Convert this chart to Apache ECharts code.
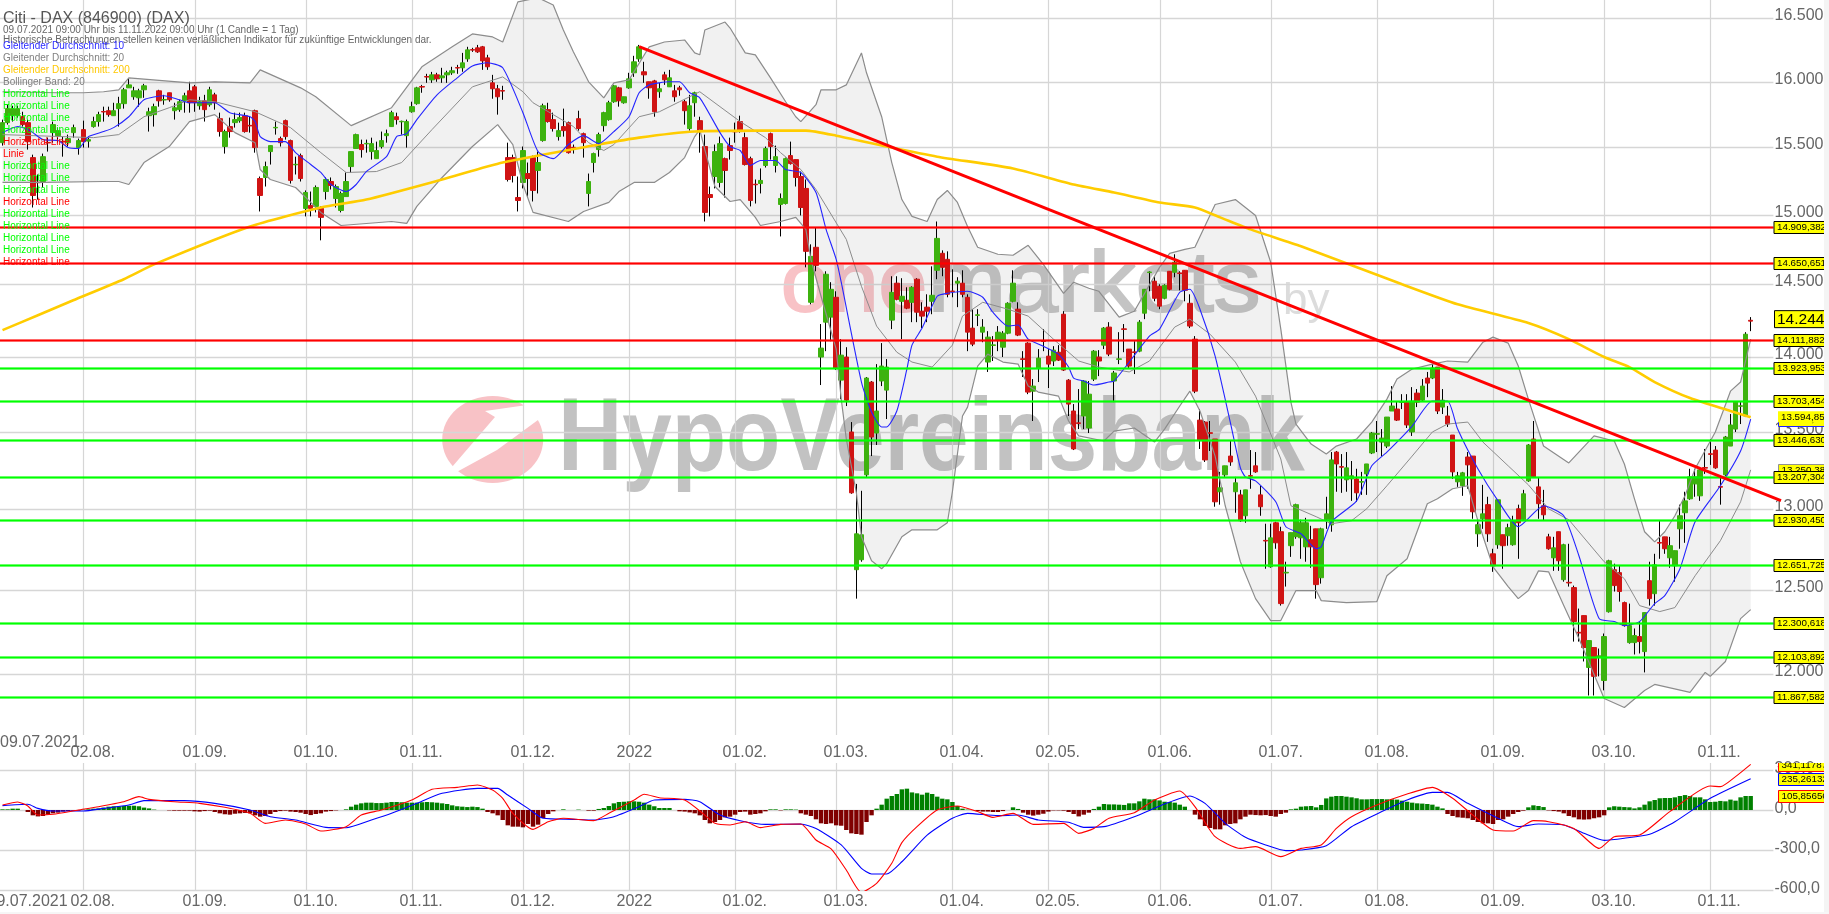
<!DOCTYPE html>
<html><head><meta charset="utf-8">
<script src="https://cdn.jsdelivr.net/npm/echarts@6/dist/echarts.min.js"></script>
<style>html,body{margin:0;padding:0;background:#fff}#c{width:1829px;height:914px}</style></head>
<body><div id="c"></div>
<script>
const holidays=['2021-12-24','2021-12-31','2022-04-15','2022-04-18'];
const firstDay='2021-07-09';
const tickDates=['2021-08-02','2021-09-01','2021-10-01','2021-11-01','2021-12-01','2022-01-03','2022-02-01','2022-03-01','2022-04-01','2022-05-02','2022-06-01','2022-07-01','2022-08-01','2022-09-01','2022-10-03','2022-11-01'];
const tickLabels=['02.08.','01.09.','01.10.','01.11.','01.12.','2022','01.02.','01.03.','01.04.','02.05.','01.06.','01.07.','01.08.','01.09.','03.10.','01.11.'];
const priceTicks=[16500,16000,15500,15000,14500,14000,13500,13000,12500,12000];
const priceTickLabels=['16.500,0','16.000,0','15.500,0','15.000,0','14.500,0','14.000,0','13.500,0','13.000,0','12.500,0','12.000,0'];
const macdTicks=[300,0,-300,-600];
const macdTickLabels=['300,0','0,0','-300,0','-600,0'];
const redLevels=[14909.382,14650.651,14111.882];
const redLevelLabels=['14.909,382','14.650,651','14.111,882'];
const greenLevels=[13923.953,13703.454,13446.630,13207.304,12930.450,12651.725,12300.618,12103.892,11867.582];
const greenLevelLabels=['13.923,953','13.703,454','13.446,630','13.207,304','12.930,450','12.651,725','12.300,618','12.103,892','11.867,582'];
const trendLine=[[126,16274],[352,13056]];

// open, close, low, high per trading day
const ohlc=[
[15533,15685,15511,15708],[15685,15792,15670,15822],[15738,15792,15693,15814],[15738,15792,15723,15814],[15730,15670,15655,15768],[15685,15541,15481,15708],[15421,15140,15052,15443],[15238,15234,15110,15295],[15243,15428,15199,15451],[15535,15531,15466,15571],
[15609,15670,15533,15693],[15586,15624,15533,15647],[15543,15539,15428,15579],[15533,15564,15504,15594],[15609,15647,15571,15670],[15496,15549,15443,15564],[15632,15541,15496,15700],[15545,15556,15496,15579],[15655,15693,15647,15730],[15693,15746,15655,15768],
[15770,15766,15693,15807],[15776,15746,15730,15807],[15738,15776,15738,15837],[15792,15830,15655,15883],[15830,15937,15792,15952],[15952,15975,15952,16022],[15883,15929,15860,15960],[15875,15929,15807,15945],[15937,15968,15875,15983],[15738,15768,15617,15799],
[15746,15807,15655,15830],[15929,15852,15807,15937],[15858,15862,15822,15898],[15914,15860,15845,15914],[15776,15799,15708,15837],[15784,15845,15768,15860],[15852,15891,15761,15914],[15929,15837,15761,15999],[15960,15837,15768,15975],[15814,15845,15784,15883],
[15852,15784,15693,15898],[15822,15937,15807,15960],[15898,15837,15784,15914],[15715,15617,15579,15761],[15504,15617,15451,15632],[15655,15617,15571,15723],[15685,15708,15647,15761],[15700,15723,15685,15761],[15738,15617,15609,15761],[15664,15660,15609,15730],
[15776,15496,15458,15784],[15265,15140,15023,15280],[15273,15354,15206,15391],[15466,15511,15369,15511],[15645,15649,15594,15693],[15564,15533,15504,15579],[15700,15579,15556,15708],[15549,15251,15228,15556],[15367,15371,15295,15428],[15436,15265,15243,15451],
[15045,15162,14987,15177],[15067,15045,14987,15169],[15060,15199,15016,15214],[15045,14980,14814,15060],[15169,15258,15110,15273],[15243,15214,15184,15273],[15118,15206,15052,15221],[15030,15155,15016,15169],[15132,15243,15132,15310],[15354,15466,15310,15466],
[15489,15594,15489,15601],[15519,15481,15421,15556],[15524,15528,15458,15556],[15466,15526,15406,15571],[15413,15474,15413,15541],[15504,15549,15489,15617],[15586,15601,15533,15632],[15655,15761,15655,15776],[15730,15708,15670,15761],[15691,15695,15594,15700],
[15586,15693,15496,15708],[15768,15807,15761,15845],[15830,15952,15822,15960],[15962,15958,15914,15975],[16040,16036,15991,16061],[16014,16053,15991,16076],[16053,16022,15999,16069],[16030,16045,15991,16108],[16053,16069,15991,16085],[16069,16085,16053,16116],
[16110,16106,16061,16131],[16108,16147,16077,16225],[16178,16249,16155,16273],[16251,16247,16233,16265],[16265,16233,16225,16288],[16273,16162,16092,16280],[16186,16116,16092,16210],[15991,15945,15868,16053],[15945,15883,15746,15975],[15931,15927,15860,15968],
[15421,15258,15243,15533],[15421,15287,15236,15443],[15125,15103,15023,15280],[15236,15474,15192,15504],[15302,15265,15125,15384],[15421,15177,15096,15436],[15325,15384,15155,15466],[15549,15814,15541,15830],[15784,15693,15685,15837],[15708,15640,15617,15761],
[15579,15624,15549,15685],[15655,15624,15579,15792],[15685,15458,15451,15693],[15498,15494,15451,15519],[15715,15640,15624,15776],[15601,15533,15421,15609],[15155,15243,15060,15302],[15384,15451,15310,15458],[15481,15594,15428,15609],[15662,15761,15617,15768],
[15708,15837,15700,15852],[15845,15968,15837,15975],[15952,15852,15807,15960],[15837,15883,15830,15883],[15952,16022,15945,16069],[16069,16155,16037,16202],[16178,16273,16155,16288],[16077,16053,15991,16155],[15999,15952,15868,15999],[16006,15768,15730,16014],
[15922,15945,15875,15991],[16053,16014,15975,16077],[15960,16030,15960,16092],[15929,15883,15845,15975],[15952,15937,15891,15968],[15845,15776,15670,15860],[15640,15814,15624,15898],[15837,15914,15730,15922],[15700,15624,15458,15730],[15504,15016,14950,15594],
[15147,15125,14987,15206],[15280,15466,15192,15519],[15236,15526,15199,15579],[15413,15325,15125,15421],[15511,15474,15406,15571],[15619,15615,15533,15685],[15693,15617,15609,15738],[15571,15369,15362,15609],[15413,15103,15060,15428],[15223,15219,15081,15258],
[15228,15251,15155,15340],[15362,15489,15347,15504],[15601,15504,15406,15609],[15362,15428,15310,15511],[15074,15118,14842,15155],[15081,15413,15074,15421],[15436,15376,15369,15541],[15406,15273,15206,15406],[15280,15052,14994,15317],[15192,14735,14621,15258],
[14375,14699,14361,14785],[14764,14635,14593,14907],[13998,14059,13809,14224],[14237,14572,14038,14593],[14272,14466,14106,14516],[14410,13924,13910,14452],[13842,14011,13715,14120],[13998,13708,13669,14065],[13498,13105,13099,13563],[12625,12847,12449,13162],
[12686,12841,12674,13118],[13220,13856,13207,13863],[13829,13465,13341,13836],[13491,13636,13413,13950],[13836,13937,13802,14093],[13775,13930,13583,13984],[14251,14445,14189,14558],[14509,14396,14389,14558],[14382,14417,14120,14544],[14389,14334,14327,14480],
[14375,14480,14237,14487],[14537,14306,14237,14544],[14313,14279,14196,14375],[14341,14313,14237,14431],[14382,14424,14292,14628],[14600,14828,14537,14950],[14721,14621,14558,14742],[14678,14431,14410,14735],[14454,14450,14410,14607],[14509,14523,14341,14551],
[14509,14431,14410,14600],[14410,14168,14038,14431],[14196,14086,14072,14327],[14284,14288,14210,14327],[14168,14203,14099,14258],[13964,14134,13897,14175],[14077,14081,13971,14141],[14113,14168,14038,14210],[14065,14161,13998,14175],[14161,14368,14154,14375],
[14382,14509,14375,14600],[14327,14148,14141,14375],[13986,13982,13863,14038],[14093,13762,13748,14099],[13768,13802,13570,13849],[13924,13991,13829,14052],[14108,14104,14038,14189],[14004,13950,13789,14052],[13971,14045,13937,14072],[14031,13977,13971,14079],
[14292,13910,13904,14313],[13842,13682,13603,13849],[13636,13387,13380,13682],[13558,13554,13517,13782],[13603,13836,13517,13842],[13524,13748,13491,13836],[13849,14038,13836,14045],[13998,13971,13869,14045],[14079,14196,14052,14203],[14203,14018,14004,14237],
[13836,13890,13695,13904],[13982,13986,13950,14168],[14191,14187,14031,14224],[14052,13937,13917,14052],[14033,14029,13883,14106],[14038,14237,14031,14251],[14299,14466,14258,14466],[14584,14588,14452,14593],[14523,14403,14382,14558],[14487,14348,14327,14501],
[14403,14494,14396,14501],[14593,14466,14459,14593],[14586,14657,14551,14714],[14581,14577,14459,14593],[14600,14459,14382,14600],[14368,14210,14196,14431],[14120,13768,13755,14141],[13576,13445,13387,13649],[13563,13316,13303,13570],[13493,13489,13374,13570],
[13452,13048,13017,13452],[13112,13137,13030,13239],[13220,13278,13207,13278],[13341,13303,13278,13439],[13112,13169,12979,13207],[13092,12929,12922,13124],[12960,13124,12916,13124],[13215,13211,13131,13380],[13278,13239,13233,13367],[13092,13017,12960,13150],
[12806,12802,12631,12910],[12643,12822,12637,12910],[12916,12791,12754,12922],[12860,12419,12407,12891],[12605,12609,12522,12674],[12773,12854,12704,12854],[12829,13030,12816,13036],[12822,12916,12692,12935],[12766,12916,12674,12947],[12810,12766,12637,12897],
[12878,12534,12449,12878],[12576,12878,12540,12885],[12935,12972,12878,13080],[12903,13316,12860,13367],[13367,13290,13112,13374],[13273,13269,13105,13354],[13188,13265,13112,13367],[13194,13214,13054,13309],[13194,13105,13048,13259],[13173,13177,13092,13239],
[13226,13290,13092,13290],[13361,13491,13354,13498],[13483,13487,13367,13570],[13432,13458,13341,13517],[13406,13596,13393,13596],[13636,13669,13636,13802],[13649,13576,13570,13702],[13693,13697,13649,13748],[13695,13544,13524,13748],[13498,13702,13472,13795],
[13755,13695,13662,13782],[13708,13802,13702,13849],[13856,13822,13728,13897],[13856,13924,13849,13950],[13930,13636,13616,13930],[13662,13708,13616,13782],[13603,13550,13531,13669],[13478,13239,13194,13478],[13175,13214,13143,13239],[13150,13233,13086,13239],
[13335,13284,13131,13367],[13341,12985,12941,13341],[12847,12904,12766,12941],[12941,12972,12878,13156],[13030,12847,12797,13080],[12723,12649,12612,12754],[12779,13061,12754,13061],[12841,12773,12631,12841],[12835,12885,12773,12910],[12779,12929,12773,12960],
[13004,12916,12692,13030],[12935,13099,12929,13124],[13181,13413,13175,13419],[13452,13207,13200,13570],[13143,13036,12941,13200],[13023,12966,12929,13124],[12828,12754,12748,12847],[12698,12760,12618,12828],[12860,12680,12618,12860],[12564,12779,12552,12785],
[12548,12544,12522,12785],[12516,12311,12192,12528],[12247,12243,12192,12389],[12347,12157,12075,12347],[12040,12198,11877,12198],[12157,11988,11877,12157],[12104,12108,11988,12151],[11964,12222,11907,12240],[12370,12680,12365,12686],[12625,12528,12492,12662],
[12607,12492,12431,12649],[12425,12287,12281,12431],[12186,12287,12180,12419],[12186,12228,12116,12270],[12222,12192,12122,12311],[12133,12365,12011,12365],[12558,12449,12407,12674],[12479,12655,12407,12723],[12793,12789,12692,12929],[12828,12754,12723,12828],
[12698,12773,12637,12828],[12649,12742,12552,12742],[12878,12960,12754,13030],[12979,13054,12791,13112],[13067,13207,13061,13259],[13162,13207,13080,13259],[13086,13252,13054,13259],[13267,13263,13226,13387],[13356,13352,13284,13452],[13380,13265,13259,13406],
[13145,13141,13030,13207],[13220,13465,13213,13472],[13406,13544,13406,13616],[13517,13695,13498,13695],[13667,13671,13550,13702],[13603,14154,13596,14168],[14250,14244,14175,14272]
];

const ma10=[[0,15609],[3,15655],[5,15632],[6,15609],[8,15556],[11,15549],[13,15496],[15,15489],[17,15579],[20,15617],[22,15647],[25,15730],[28,15860],[32,15891],[35,15860],[37,15837],[42,15837],[45,15761],[49,15730],[50,15693],[51,15579],[53,15541],[56,15541],[58,15458],[61,15369],[63,15310],[65,15221],[68,15169],[70,15221],[72,15317],[76,15428],[78,15579],[80,15601],[82,15708],[86,15898],[90,16030],[93,16123],[96,16147],[99,16108],[103,15761],[106,15466],[109,15413],[112,15519],[115,15586],[118,15526],[121,15617],[124,15730],[126,15914],[128,15975],[132,15999],[134,15999],[136,15914],[138,15875],[142,15609],[144,15504],[146,15474],[148,15362],[150,15399],[153,15399],[155,15332],[158,15310],[161,15162],[163,14893],[165,14678],[166,14516],[170,13829],[172,13629],[174,13531],[175,13531],[177,13636],[179,13917],[180,14079],[182,14196],[185,14417],[187,14438],[191,14452],[194,14410],[196,14306],[199,14210],[201,14217],[203,14120],[206,14072],[209,14018],[211,13930],[212,13856],[214,13836],[216,13809],[219,13829],[220,13836],[223,13964],[227,14141],[229,14189],[233,14445],[235,14466],[237,14327],[240,14004],[243,13563],[245,13265],[246,13207],[248,13181],[252,13048],[254,12891],[257,12847],[260,12754],[261,12766],[263,12922],[268,13054],[271,13278],[274,13367],[279,13537],[283,13702],[286,13702],[288,13517],[292,13259],[296,13054],[300,12891],[305,13023],[309,12960],[312,12711],[316,12329],[319,12311],[321,12287],[324,12311],[327,12419],[329,12467],[332,12631],[335,12922],[340,13150],[344,13374],[346,13583]];
const ma20=[[0,15594],[18,15571],[23,15594],[28,15730],[33,15799],[37,15860],[42,15845],[50,15768],[57,15647],[63,15458],[68,15310],[74,15317],[79,15384],[85,15632],[93,15960],[99,16037],[103,15922],[105,15837],[109,15746],[113,15655],[116,15533],[119,15474],[121,15519],[126,15730],[130,15768],[134,15845],[138,15922],[142,15807],[146,15693],[151,15571],[154,15458],[158,15332],[161,15184],[167,14821],[170,14487],[173,14210],[177,14031],[180,13964],[184,13930],[188,14079],[190,14279],[194,14375],[199,14327],[203,14279],[208,14120],[213,13971],[217,13930],[223,13897],[227,13971],[232,14203],[235,14258],[239,14154],[244,13964],[248,13735],[253,13322],[255,13023],[260,12954],[263,12910],[267,12929],[270,13004],[274,13150],[279,13341],[283,13498],[286,13550],[290,13563],[293,13432],[298,13278],[302,13156],[306,13004],[310,12935],[317,12674],[321,12570],[324,12407],[328,12371],[331,12395],[335,12588],[340,12804],[344,13048],[346,13252]];
const ma200=[[0,14182],[7,14285],[14,14389],[24,14537],[30,14642],[49,14914],[63,15052],[72,15110],[87,15258],[99,15384],[118,15519],[126,15571],[137,15617],[150,15624],[159,15624],[165,15586],[175,15504],[185,15428],[200,15340],[212,15221],[220,15162],[229,15089],[236,15052],[241,14980],[247,14893],[257,14771],[277,14501],[288,14361],[302,14231],[310,14120],[317,13998],[322,13930],[327,13829],[334,13722],[342,13636],[346,13595]];
const bollUpper=[[0,15922],[11,15914],[16,15914],[20,15922],[23,15937],[25,16030],[37,15991],[42,15999],[49,15991],[51,16092],[59,15952],[62,15883],[69,15662],[77,15799],[83,16116],[89,16273],[93,16375],[97,16351],[99,16311],[102,16632],[106,16665],[109,16607],[111,16406],[113,16232],[116,15999],[119,15875],[121,15991],[124,16014],[128,16273],[131,16311],[135,16327],[137,16225],[138,16210],[139,16406],[143,16470],[144,16422],[147,16225],[149,16210],[152,16030],[155,15845],[157,15730],[158,15693],[161,15822],[162,15937],[165,15937],[167,15975],[170,16225],[171,16069],[174,15730],[176,15384],[178,15110],[180,14987],[183,14950],[185,15110],[187,15177],[189,15089],[191,14914],[193,14764],[197,14714],[200,14707],[203,14778],[206,14642],[210,14438],[212,14516],[215,14473],[217,14452],[221,14272],[224,14313],[229,14621],[231,14721],[234,14749],[236,14764],[240,15074],[244,15110],[248,14994],[251,14657],[253,14189],[255,13695],[256,13550],[259,13419],[262,13354],[264,13406],[268,13452],[271,13563],[274,13715],[276,13849],[279,13917],[283,13950],[286,13971],[290,13964],[293,14099],[295,14134],[298,14093],[300,13937],[302,13715],[305,13406],[310,13297],[315,13472],[319,13439],[321,13290],[323,13067],[325,12860],[327,12797],[329,12860],[331,12960],[333,13086],[335,13259],[339,13498],[342,13768],[344,13829],[346,14120]];
const bollLower=[[0,15236],[8,15236],[20,15243],[23,15243],[25,15221],[28,15384],[33,15504],[37,15693],[42,15746],[46,15609],[50,15533],[51,15332],[53,15258],[58,15199],[63,15016],[67,14921],[77,14950],[80,14936],[82,15060],[87,15273],[93,15504],[98,15670],[101,15519],[103,15221],[105,15016],[112,14950],[115,15023],[120,15089],[122,15169],[125,15236],[129,15236],[132,15310],[135,15421],[137,15579],[138,15632],[139,15481],[141,15206],[144,15096],[146,15110],[149,14980],[150,14921],[154,14950],[157,14980],[159,14893],[160,14678],[162,14417],[165,14052],[166,13715],[167,13452],[169,13105],[170,12829],[172,12680],[174,12631],[175,12662],[178,12829],[180,12872],[185,12872],[187,12916],[188,13112],[190,13603],[191,13662],[193,13937],[195,14018],[198,13964],[201,13950],[203,13802],[205,13762],[209,13735],[211,13570],[213,13472],[218,13439],[220,13504],[224,13524],[228,13432],[230,13517],[233,13669],[235,13768],[237,13636],[240,13341],[242,13023],[245,12674],[248,12449],[251,12317],[253,12317],[256,12498],[260,12498],[261,12437],[266,12425],[272,12431],[274,12588],[278,12692],[282,13036],[284,13067],[287,13131],[290,13150],[292,12929],[295,12643],[298,12522],[300,12449],[302,12498],[304,12618],[306,12612],[309,12407],[312,12210],[317,11860],[321,11808],[325,11906],[327,11941],[334,11895],[337,12011],[338,11988],[341,12075],[344,12329],[346,12383]];
const macdLine=[[0,38],[3,60],[5,30],[7,-38],[10,-32],[15,0],[19,25],[24,62],[27,100],[29,80],[34,62],[39,50],[44,20],[49,-25],[52,-100],[56,-75],[60,-105],[63,-158],[68,-125],[71,-38],[75,0],[81,75],[85,155],[90,170],[94,188],[97,150],[99,88],[101,-25],[105,-145],[108,-88],[111,-62],[117,-80],[120,-25],[125,75],[127,118],[130,92],[135,75],[139,-38],[141,-100],[144,-112],[147,-88],[150,-132],[154,-108],[158,-105],[161,-225],[164,-292],[167,-450],[170,-618],[173,-550],[176,-400],[178,-245],[181,-125],[185,0],[189,30],[193,-12],[196,-55],[200,-25],[204,-108],[210,-100],[213,-175],[216,-138],[219,-62],[224,-20],[228,75],[233,142],[236,25],[240,-200],[245,-288],[248,-275],[253,-350],[257,-288],[261,-262],[264,-138],[267,-50],[272,38],[278,120],[283,170],[287,88],[291,-38],[295,-150],[299,-158],[303,-80],[306,-88],[311,-138],[316,-288],[319,-200],[324,-188],[330,-12],[338,180],[340,175],[343,250],[346,342]];
const macdSignal=[[0,33],[5,43],[7,12],[10,-8],[16,-8],[20,12],[25,38],[28,70],[36,70],[42,50],[49,0],[53,-50],[58,-75],[64,-130],[68,-133],[73,-75],[77,-25],[82,50],[87,125],[94,162],[98,162],[100,112],[104,12],[107,-62],[113,-70],[117,-75],[121,-50],[126,25],[129,75],[135,80],[138,62],[142,-38],[146,-80],[151,-108],[158,-105],[161,-138],[166,-262],[170,-438],[172,-480],[175,-480],[178,-388],[183,-188],[188,-62],[191,-25],[197,-42],[201,-38],[205,-75],[211,-92],[214,-130],[218,-125],[224,-50],[230,45],[235,105],[238,50],[242,-100],[246,-205],[250,-262],[254,-305],[257,-300],[262,-268],[267,-125],[273,-12],[278,75],[283,132],[286,132],[290,50],[296,-62],[300,-125],[304,-105],[309,-112],[313,-175],[317,-228],[321,-212],[326,-182],[331,-88],[338,88],[346,235]];
const macdHist=[
5,5,10,10,0,-15,-40,-48,-45,-35,
-25,-20,-12,-8,-5,-5,3,5,10,12,
18,25,28,28,30,32,32,28,18,12,
3,0,0,-3,-5,-5,-5,-5,-10,-12,
-8,-5,-15,-25,-32,-35,-28,-25,-22,-25,
-40,-50,-45,-30,-15,-8,-5,-12,-15,-20,
-30,-38,-30,-25,-12,-8,-3,0,5,25,
40,50,55,55,52,52,55,60,60,58,
55,55,55,58,60,58,55,50,45,35,
28,25,22,25,22,10,-15,-25,-40,-75,
-115,-125,-125,-130,-105,-125,-110,-60,-30,-10,
0,5,0,0,3,0,-5,-5,8,15,
30,50,60,62,65,65,62,55,40,28,
15,15,15,0,-10,-12,-18,-25,-40,-75,
-100,-90,-75,-55,-50,-35,-15,-12,-35,-30,
-25,-10,5,5,-3,5,5,3,-25,-35,
-45,-70,-100,-105,-100,-115,-118,-150,-175,-180,
-185,-90,-40,10,40,85,105,120,155,160,
132,125,115,130,120,100,85,80,60,30,
10,3,0,-8,-12,-12,-15,-15,-8,0,
20,8,-20,-35,-42,-35,-28,-12,-3,-3,
-5,-15,-30,-48,-35,-20,8,25,45,42,
42,40,38,50,50,65,85,80,80,72,
62,60,55,40,25,0,-35,-70,-120,-135,
-145,-145,-115,-105,-100,-70,-50,-35,-38,-40,
-38,-45,-50,-30,-20,5,10,25,28,30,
20,38,87,100,105,105,100,95,88,80,
80,82,82,82,80,80,78,70,62,55,
50,48,45,40,25,12,-30,-45,-55,-58,
-62,-75,-90,-100,-100,-105,-75,-70,-50,-30,
-15,-5,20,35,30,22,-3,-8,-12,-25,
-45,-55,-70,-72,-70,-62,-55,-40,20,28,
25,22,20,12,20,40,65,75,88,90,
90,95,105,112,105,95,95,80,60,62,
68,65,78,70,95,105,105
];
const titleText='Citi - DAX (846900) (DAX)';
const subTexts=['09.07.2021 09:00 Uhr bis 11.11.2022 09:00 Uhr (1 Candle = 1 Tag)','Historische Betrachtungen stellen keinen verläßlichen Indikator für zukünftige Entwicklungen dar.'];
const legendLabels=['Gleitender Durchschnitt: 10','Gleitender Durchschnitt: 20','Gleitender Durchschnitt: 200','Bollinger Band: 20','Horizontal Line','Horizontal Line','Horizontal Line','Horizontal Line','Horizontal Line','Linie','Horizontal Line','Horizontal Line','Horizontal Line','Horizontal Line','Horizontal Line','Horizontal Line','Horizontal Line','Horizontal Line','Horizontal Line'];
const legendColors=['#2a2aff','#808080','#ffc800','#808080','#00ff00','#00ff00','#00ff00','#00ff00','#ff0000','#ff0000','#00ff00','#00ff00','#00ff00','#ff0000','#00ff00','#00ff00','#00ff00','#00ff00','#ff0000'];

// trading-day categories (weekdays minus exchange holidays), padded to the right edge
const categories=[];
for(let t=Date.UTC(2021,6,9);categories.length<362;t+=864e5){
  const d=new Date(t),s=d.toISOString().slice(0,10);
  if(d.getUTCDay()%6!==0&&!holidays.includes(s))categories.push(s);
}
const tickIdx=tickDates.map(d=>categories.indexOf(d));
const FONT='"Liberation Sans",Arial,sans-serif';
const GRID='#d6d6d6',TXT='#666';
const lastBar=350;
function rightEdge(api,v){return api.coord([lastBar,v])[0]+2.5;}
function txt(x,y,s,fill,size,extra){return Object.assign({type:'text',x,y,silent:true,style:{text:s,fill,font:size+'px '+FONT,align:'left',verticalAlign:'middle'}},extra||{});}
function hline(x1,x2,y,stroke,w,op){return {type:'line',shape:{x1,y1:y,x2,y2:y},style:{stroke,lineWidth:w,opacity:op==null?1:op},silent:true};}
function box(x,y,h,s,fill,border,size){
  return {type:'group',children:[
    {type:'rect',shape:{x:x+.5,y:Math.round(y-h/2)+.5,width:70,height:h},style:{fill,stroke:border,lineWidth:1}},
    txt(x+3.5,Math.round(y)+.5,s,'#000',size)]};
}
function customSeries(name,gridIdx,data,render,z,clip){
  return {name,type:'custom',xAxisIndex:gridIdx,yAxisIndex:gridIdx,data,encode:{x:0,y:1},renderItem:render,z,clip:clip!==false,silent:true,animation:false,tooltip:{show:false}};
}
function lineSeries(name,gridIdx,data,color,width,smooth,z){
  return {name,type:'line',xAxisIndex:gridIdx,yAxisIndex:gridIdx,data,showSymbol:false,symbol:'none',smooth,lineStyle:{color,width},z,silent:true,animation:false};
}
// price panel: horizontal grid + tick labels
const priceGrid=customSeries('priceGrid',0,priceTicks.map((v,i)=>[0,v,i]),(p,api)=>{
  const v=api.value(1),y=Math.round(api.coord([0,v])[1])+.5,i=api.value(2);
  return {type:'group',children:[hline(0,rightEdge(api,v),y,GRID,1.5),txt(1774.5,y-3,priceTickLabels[i],TXT,16)]};
},1);
// vertical grid + date labels, both panels
const vGrid=customSeries('dateGrid',0,tickIdx.map((x,i)=>[x,14000,i]),(p,api)=>{
  const i=api.value(2),x=Math.round(api.coord([api.value(0),14000])[0])+.5;
  return {type:'group',children:[
    {type:'line',shape:{x1:x,y1:0,x2:x,y2:735},style:{stroke:GRID,lineWidth:1.2}},
    {type:'line',shape:{x1:x,y1:763,x2:x,y2:890},style:{stroke:GRID,lineWidth:1.2}},
    txt(x-13,752.5,tickLabels[i],TXT,16),txt(x-13,902,tickLabels[i],TXT,16)]};
},1,false);
const firstLabels=customSeries('firstLabels',0,[[0,14000]],(p,api)=>({type:'group',children:[
  txt(0,742.5,'09.07.2021',TXT,16),txt(-12.5,902,'09.07.2021',TXT,16)]}),1,false);
// Bollinger fill
const band=customSeries('bollFill',0,[[0,14000]],(p,api)=>{
  const pts=bollUpper.map(a=>api.coord(a)).concat(bollLower.slice().reverse().map(a=>api.coord(a)));
  return {type:'polygon',shape:{points:pts},style:{fill:'rgba(120,120,120,0.105)'},silent:true};
},2);
// level lines
const levels=customSeries('levels',0,redLevels.map((v,i)=>[0,v,0,i]).concat(greenLevels.map((v,i)=>[0,v,1,i])),(p,api)=>{
  const v=api.value(1),g=api.value(2),y=Math.round(api.coord([0,v])[1])+.5,col=g?'#00ff00':'#ff0000',x2=rightEdge(api,v);
  return {type:'group',children:[hline(0,x2,y,col,3,.45),hline(0,x2,y,col,1.6)]};
},8);
// value boxes (drawn in an order that lets later boxes cover earlier ones)
const priceBoxes=customSeries('priceBoxes',0,[[0,14000]],(p,api)=>{
  const c=[];
  const Y=v=>api.coord([0,v])[1];
  const fs=9.8;
  c.push(box(1778,Y(13583),13,'13.583,10','#ffff00','#2020ff',fs));
  c.push({type:'rect',shape:{x:1778,y:Y(13594.85)-6,width:60,height:11},style:{fill:'#ffff00'}});
  c.push(txt(1781,Y(13594.85),'13.594,85','#000',fs));
  c.push(box(1778,Y(13250.38),13,'13.250,38','#ffff00','#909090',fs));
  redLevels.forEach((v,i)=>c.push(box(1773.5,Y(v),12,redLevelLabels[i],'#ffff00','#000',fs)));
  greenLevels.forEach((v,i)=>c.push(box(1773.5,Y(v),12,greenLevelLabels[i],'#ffff00','#000',fs)));
  c.push({type:'rect',shape:{x:1774.5,y:Y(14244)-10.5,width:70,height:17},style:{fill:'#ffff00',stroke:'#000',lineWidth:1}});
  c.push(txt(1777,Y(14244)-1.5,'14.244','#000',15.5));
  return {type:'group',children:c};
},9,false);
// MACD grid
const macdGrid=customSeries('macdGrid',1,macdTicks.map((v,i)=>[0,v,i]),(p,api)=>{
  const v=api.value(1),y=Math.round(api.coord([0,v])[1])+.5,i=api.value(2);
  return {type:'group',children:[hline(0,rightEdge(api,v),y,GRID,1.5),txt(1774.5,y-2,macdTickLabels[i],TXT,16)]};
},1,false);
const macdBoxRows=[['341,11787','#ff0000'],['235,26132','#0000ff'],['105,85656','#ff0000']];
const macdBoxValues=[341.118,235.261,105.857];
const macdBoxes=customSeries('macdBoxes',1,macdBoxValues.map((v,i)=>[346,v,i]),(p,api)=>{
  const rows=macdBoxRows[api.value(2)];
  return box(1778,api.coord([0,api.value(1)])[1],12,rows[0],'#ffff00',rows[1],9.8);
},9);

const wicks={type:'candlestick',xAxisIndex:0,yAxisIndex:0,data:ohlc,barWidth:1,large:false,itemStyle:{color:'#000',color0:'#000',borderColor:'#000',borderColor0:'#000',borderWidth:1},z:4,silent:true,animation:false};
const bodies={type:'candlestick',xAxisIndex:0,yAxisIndex:0,data:ohlc.map(r=>[r[0],r[1],Math.min(r[0],r[1]),Math.max(r[0],r[1])]),barWidth:5,large:false,itemStyle:{color:'#3db20f',color0:'#d01414',borderColor:'#3db20f',borderColor0:'#d01414',borderWidth:1},z:5,silent:true,animation:false};
const histBars={type:'bar',xAxisIndex:1,yAxisIndex:1,data:macdHist.map(v=>({value:v,itemStyle:{color:v>=0?'#008000':'#800000'}})),barWidth:4.4,z:3,silent:true,animation:false};

const legendGraphics=legendLabels.map((s,i)=>({type:'text',x:3,y:46+12*i,z:100,silent:true,style:{text:s,fill:legendColors[i],font:'10px '+FONT,align:'left',verticalAlign:'middle'}}));
const chart=echarts.init(document.getElementById('c'),null,{renderer:'canvas'});
chart.setOption({
  backgroundColor:'#fff',animation:false,
  grid:[{left:-2,top:0,width:362*5.06,height:735,containLabel:false},{left:-2,top:763,width:362*5.06,height:127.5,containLabel:false}],
  xAxis:[{type:'category',gridIndex:0,data:categories,show:false,boundaryGap:true},{type:'category',gridIndex:1,data:categories,show:false,boundaryGap:true}],
  yAxis:[{type:'log',logBase:10,gridIndex:0,min:11651.6,max:16647,show:false,scale:true},{type:'value',gridIndex:1,min:-603.75,max:352.5,show:false}],
  series:[
    priceGrid,vGrid,firstLabels,band,wicks,bodies,
    lineSeries('BB oben',0,bollUpper,'#8c8c8c',1.2,false,6),
    lineSeries('BB unten',0,bollLower,'#8c8c8c',1.2,false,6),
    lineSeries('GD 20',0,ma20,'#8c8c8c',1,false,6),
    lineSeries('GD 200',0,ma200,'#ffcc00',2.6,0.2,6),
    lineSeries('GD 10',0,ma10,'#2424ff',1.1,0.2,7),
    levels,
    lineSeries('Trend',0,trendLine,'#ff0000',3,false,8),
    priceBoxes,
    macdGrid,histBars,
    lineSeries('Signal',1,macdSignal,'#0000ff',1.1,0.2,6),
    lineSeries('MACD',1,macdLine,'#ff0000',1.1,0.2,7),
    macdBoxes
  ],
  graphic:[
    {type:'ellipse',z:0,silent:true,shape:{cx:492.7,cy:439.5,rx:50.5,ry:43.5},style:{fill:'#f8c2c6'}},
    {type:'polygon',z:0,silent:true,shape:{points:[[485,411],[527,405],[540,413],[538,420],[497,450],[453,474],[452,467],[495,417]]},style:{fill:'#fff'}},
    {type:'text',z:0,silent:true,x:558,y:441.3,scaleX:.864,style:{text:'HypoVereinsbank',fill:'#c2c2c2',font:'bold 103px '+FONT,align:'left',verticalAlign:'middle'}},
    {type:'text',z:0,silent:true,x:781,y:287.5,scaleX:1.03,style:{text:'one',fill:'#f8c2c6',stroke:'#f8c2c6',lineWidth:2,font:'85px '+FONT,align:'left',verticalAlign:'middle'}},
    {type:'text',z:0,silent:true,x:928,y:287.5,scaleX:1.1,style:{text:'markets',fill:'#c4c4c4',stroke:'#c4c4c4',lineWidth:2,font:'85px '+FONT,align:'left',verticalAlign:'middle'}},
    {type:'text',z:0,silent:true,x:1283,y:302,style:{text:'by',fill:'#dcdcdc',font:'44px '+FONT,align:'left',verticalAlign:'middle'}},
    {type:'text',z:100,silent:true,x:3,y:18.5,style:{text:titleText,fill:'#555',font:'16px '+FONT,align:'left',verticalAlign:'middle'}},
    {type:'text',z:100,silent:true,x:3,y:30.5,style:{text:subTexts[0],fill:'#666',font:'10px '+FONT,align:'left',verticalAlign:'middle'}},
    {type:'text',z:100,silent:true,x:3,y:40.5,style:{text:subTexts[1],fill:'#666',font:'10px '+FONT,align:'left',verticalAlign:'middle'}},
    ...legendGraphics,
    {type:'rect',z:200,silent:true,shape:{x:1824,y:0,width:5,height:914},style:{fill:'#f4f4f4'}},
    {type:'rect',z:200,silent:true,shape:{x:0,y:912,width:1829,height:2},style:{fill:'#f6f6f6'}}
  ]
});
</script></body></html>
